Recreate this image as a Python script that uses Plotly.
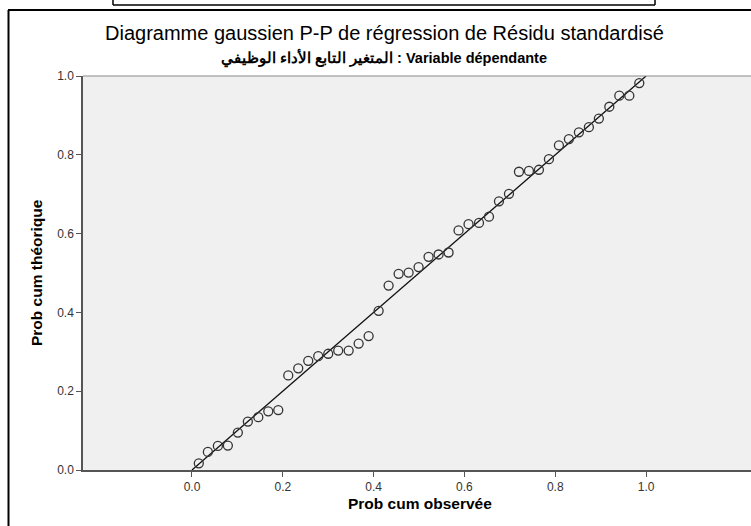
import plotly.graph_objects as go

# ---- data ----
obs_cum_prob = [0.015, 0.035, 0.057, 0.079, 0.101, 0.123, 0.146, 0.168, 0.190, 0.212,
                0.234, 0.256, 0.278, 0.300, 0.322, 0.345, 0.367, 0.389, 0.411, 0.433,
                0.455, 0.477, 0.499, 0.521, 0.543, 0.565, 0.587, 0.609, 0.632, 0.654,
                0.676, 0.698, 0.720, 0.742, 0.764, 0.786, 0.808, 0.830, 0.852, 0.874,
                0.896, 0.919, 0.941, 0.963, 0.985]
theo_cum_prob = [0.017, 0.046, 0.061, 0.062, 0.095, 0.123, 0.134, 0.149, 0.152, 0.240,
                 0.258, 0.277, 0.289, 0.295, 0.303, 0.303, 0.321, 0.340, 0.404, 0.468,
                 0.498, 0.501, 0.515, 0.541, 0.547, 0.552, 0.608, 0.624, 0.627, 0.643,
                 0.682, 0.701, 0.757, 0.759, 0.762, 0.789, 0.824, 0.840, 0.857, 0.870,
                 0.892, 0.922, 0.950, 0.950, 0.982]
ref_line_x = [0.0, 1.0]
ref_line_y = [0.0, 1.0]
x_tick_vals = [0.0, 0.2, 0.4, 0.6, 0.8, 1.0]
y_tick_vals = [0.0, 0.2, 0.4, 0.6, 0.8, 1.0]

title_text = "Diagramme gaussien P-P de régression de Résidu standardisé"
subtitle_text = "<b>المتغير التابع الأداء الوظيفي : Variable dépendante</b>"
x_title = "Prob cum observée"
y_title = "Prob cum théorique"

# ---- layout geometry ----
W, H = 751, 526
ML, MR, MT, MB = 83, 0, 76, 56
PW, PH = W - ML - MR, H - MT - MB


def px(x):
    return (x - ML) / PW


def py(y):
    return (H - MB - y) / PH


FONT = "Liberation Sans, Arial, sans-serif"
NARROW = "Liberation Sans Narrow, Arial Narrow, Liberation Sans, Arial, sans-serif"

fig = go.Figure()
fig.add_trace(go.Scatter(x=ref_line_x, y=ref_line_y, mode="lines",
                         line=dict(color="#111111", width=1.3),
                         hoverinfo="skip", showlegend=False))
fig.add_trace(go.Scatter(x=obs_cum_prob, y=theo_cum_prob, mode="markers",
                         marker=dict(symbol="circle-open", size=9, color="#333333",
                                     line=dict(width=1.3, color="#333333")),
                         showlegend=False))

fig.update_layout(
    width=W, height=H,
    margin=dict(l=ML, r=MR, t=MT, b=MB, pad=0),
    paper_bgcolor="white", plot_bgcolor="#F0F0F0",
    font=dict(family=FONT, color="#000000"),
    xaxis=dict(range=[-0.240, 1.231], tickvals=x_tick_vals, tickformat=".1f",
               showgrid=False, zeroline=False, showline=True, linecolor="#555555",
               linewidth=1.5, ticks="outside", ticklen=5, tickcolor="#555555",
               tickwidth=1.2, tickfont=dict(family=NARROW, size=12, color="#333333")),
    yaxis=dict(range=[0.0, 1.0], tickvals=y_tick_vals, tickformat=".1f",
               showgrid=False, zeroline=False, showline=True, linecolor="#555555",
               linewidth=1.5, ticks="outside", ticklen=5, tickcolor="#555555",
               tickwidth=1.2, tickfont=dict(family=NARROW, size=12, color="#333333")),
)

annotations = [
    dict(text=title_text, x=px(384), y=py(33), font=dict(size=20, family=FONT)),
    dict(text=subtitle_text, x=px(384), y=py(58), font=dict(size=14.5, family=FONT)),
    dict(text="<b>" + x_title + "</b>", x=px(420), y=py(504),
         font=dict(size=15.5, family=NARROW)),
    dict(text="<b>" + y_title + "</b>", x=px(36), y=py(273), textangle=-90,
         font=dict(size=15.5, family=NARROW)),
]
for a in annotations:
    a.update(xref="paper", yref="paper", showarrow=False, xanchor="center", yanchor="middle")
fig.update_layout(annotations=annotations)

shapes = [
    # top border of plot area
    dict(type="line", x0=0, x1=1, y0=1, y1=1, line=dict(color="#8a8a8a", width=1.2)),
    # outer frame (left and top)
    dict(type="line", x0=px(8.5), x1=px(8.5), y0=py(10), y1=py(H + 2), line=dict(color="black", width=2)),
    dict(type="line", x0=px(8), x1=px(W + 2), y0=py(10), y1=py(10), line=dict(color="black", width=2)),
    # remnant of box above
    dict(type="line", x0=px(113), x1=px(113), y0=py(-2), y1=py(5), line=dict(color="black", width=1.5)),
    dict(type="line", x0=px(655), x1=px(655), y0=py(-2), y1=py(5), line=dict(color="black", width=1.5)),
    dict(type="line", x0=px(113), x1=px(655), y0=py(5), y1=py(5), line=dict(color="black", width=1.5)),
]
for s in shapes:
    s.update(xref="paper", yref="paper", layer="above")
fig.update_layout(shapes=shapes)

fig.write_html("out.html")
